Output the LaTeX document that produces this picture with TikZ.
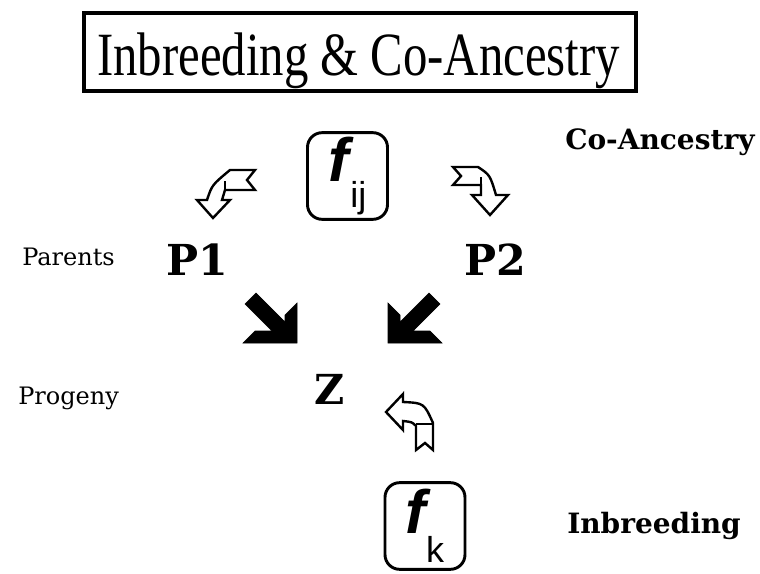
\documentclass[tikz,border=0pt]{standalone}
\usepackage{fontspec}
\setmainfont{Liberation Serif}
\setsansfont{Liberation Sans}
\newfontfamily\lblfont{DejaVu Serif}
\usetikzlibrary{positioning}

\tikzset{
  titlebox/.style={draw,line width=3pt,minimum width=414pt,minimum height=58pt,inner sep=0pt},
  coefbox/.style={draw,line width=2.2pt,rounded corners=11pt,inner sep=0pt,
    minimum width=60pt,minimum height=65pt,font=\sffamily},
  person/.style={inner sep=0pt,anchor=base west,font=\lblfont\bfseries\fontsize{32}{32}\selectfont},
  sidelabel/.style={inner sep=0pt,anchor=base west,font=\lblfont\fontsize{18}{18}\selectfont},
  keylabel/.style={inner sep=0pt,anchor=base west,font=\lblfont\bfseries\fontsize{21}{21}\selectfont},
  hollow/.style={draw,line width=1.8pt,fill=white,line join=miter},
  solidarr/.style={fill=black},
}
\newcommand{\coef}[3]{{\bfseries\itshape\fontsize{46}{46}\selectfont f}\kern#3\raisebox{-#2}{\fontsize{27}{27}\selectfont #1}}

\begin{document}
\begin{tikzpicture}[x=0.75pt,y=-0.75pt]
  \useasboundingbox (0,0) rectangle (760,574);

  % Title
  \node[titlebox] (title) at (359.5,52) {};
  \node[inner sep=0pt,anchor=base] (titletext) at (358.5,76)
    {\resizebox{392pt}{32pt}{Inbreeding \& Co-Ancestry}};

  % Co-ancestry coefficient
  \node[coefbox] (fij) at (347.5,176) {\coef{ij}{20pt}{1pt}};
  \node[keylabel] (coanc) at (565,150) {Co-Ancestry};

  % Parents
  \node[sidelabel] (parents) at (22,265) {Parents};
  \node[person] (p1) at (166,275) {P1};
  \node[person] (p2) at (464,275) {P2};

  % Progeny
  \node[sidelabel] (progeny) at (18,404) {Progeny};
  \node[person,font=\lblfont\bfseries\fontsize{31}{31}\selectfont] (z) at (314,404) {Z};

  % Inbreeding coefficient
  \node[coefbox] (fk) at (425,526) {\coef{k}{22pt}{0pt}};
  \node[keylabel] (inbr) at (567,533) {Inbreeding};

  % Hollow arrows from f_ij
  \draw[hollow] (230,170) -- (255,170) -- (247,180) -- (255,190) -- (225,190)
    -- (222,200) -- (230,200) -- (213,218) -- (197,200) -- (207,200)
    .. controls (212,185) .. cycle;
  \draw[line width=1.8pt] (225,190) -- (225,181);
  \draw[hollow] (453,167) -- (478,167) .. controls (490,175) .. (496,195)
    -- (508,195) -- (490,215) -- (472,195) -- (481,195) -- (481,185)
    -- (453,185) -- (461,176) -- cycle;
  \draw[line width=1.8pt] (481,185) -- (481,177);

  % Solid arrows to Z
  \draw[solidarr] (297,343) -- (243,343) -- (255,331) -- (272,331) -- (245,304)
    -- (256,293) -- (285,322) -- (285,315) -- (297,303) -- cycle;
  \draw[solidarr] (388,343) -- (442,343) -- (430,331) -- (413,331) -- (440,304)
    -- (429,293) -- (400,322) -- (400,315) -- (388,303) -- cycle;

  % Hollow arrow from f_k
  \draw[hollow] (386,412) -- (403,394) -- (403,402) .. controls (424,403) .. (433,423)
    -- (433,450) -- (425,443) -- (416,450) -- (416,426)
    .. controls (412,422) .. (403,421) -- (403,430) -- cycle;
  \draw[line width=1.8pt] (416,424) -- (433,424);
\end{tikzpicture}
\end{document}
